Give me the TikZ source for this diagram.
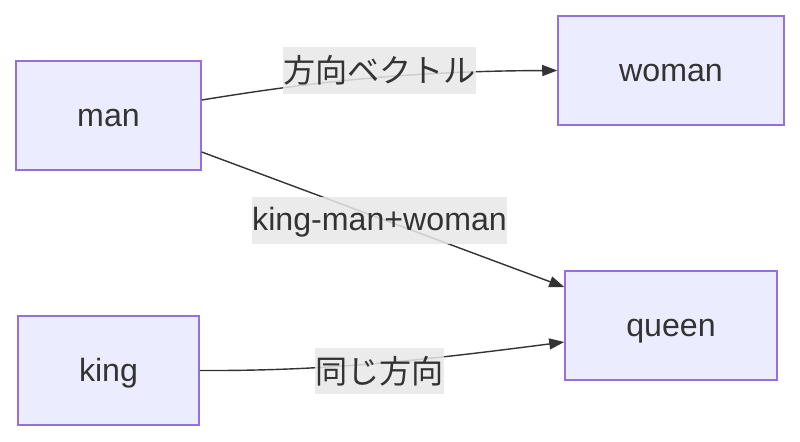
\documentclass[tikz,border=0pt]{standalone}
\usepackage{fontspec}
\setmainfont{Liberation Sans}
\newfontfamily\jpfont{Noto Sans CJK JP}
\usetikzlibrary{arrows.meta,calc}

\definecolor{nodefill}{HTML}{ECECFF}
\definecolor{nodeline}{HTML}{9370DB}
\definecolor{inkgray}{HTML}{333333}
\definecolor{labelbg}{HTML}{E8E8E8}

\begin{document}
\begin{tikzpicture}[
    x=0.02cm,y=-0.02cm,
    word/.style={rectangle,draw=nodeline,fill=nodefill,line width=0.9pt,minimum height=2.18cm,text height=12.4pt,text depth=0pt,text=inkgray,font=\fontsize{18.3}{22}\selectfont},
    lbl/.style={rectangle,fill=labelbg,fill opacity=0.85,text opacity=1,inner xsep=0pt,minimum height=0.93cm,text=inkgray,font=\fontsize{18.3}{22}\selectfont},
    edge/.style={line width=0.8pt,draw=inkgray,-{Triangle[length=0.3cm,width=0.22cm]}}
]
    \useasboundingbox (0,0) rectangle (800,441);

    \node[word,minimum width=3.7cm] (man) at (108.5,115.5) {man};
    \node[word,minimum width=4.52cm] (woman) at (671,70.5) {woman};
    \node[word,minimum width=3.62cm] (king) at (108.5,370.5) {king};
    \node[word,minimum width=4.24cm] (queen) at (671,325.5) {queen};

    \draw[edge] ($(man.east)+(0,-15.5)$) .. controls (300,84) and (400,71) .. (woman.west);
    \draw[edge] ($(man.east)+(0,36.5)$) -- ($(queen.west)+(0,-38.5)$);
    \draw[edge] (king.east) .. controls (320,371) and (410,362) .. ($(queen.west)+(0,16.5)$);

    \node[lbl] (vec) at (379.5,70.5) {\jpfont 方向ベクトル};
    \node[lbl,text height=10.8pt,text depth=0pt] (calc) at (379.5,220.5) {king-man+woman};
    \node[lbl] (same) at (379.5,371) {\jpfont 同じ方向};
\end{tikzpicture}
\end{document}
